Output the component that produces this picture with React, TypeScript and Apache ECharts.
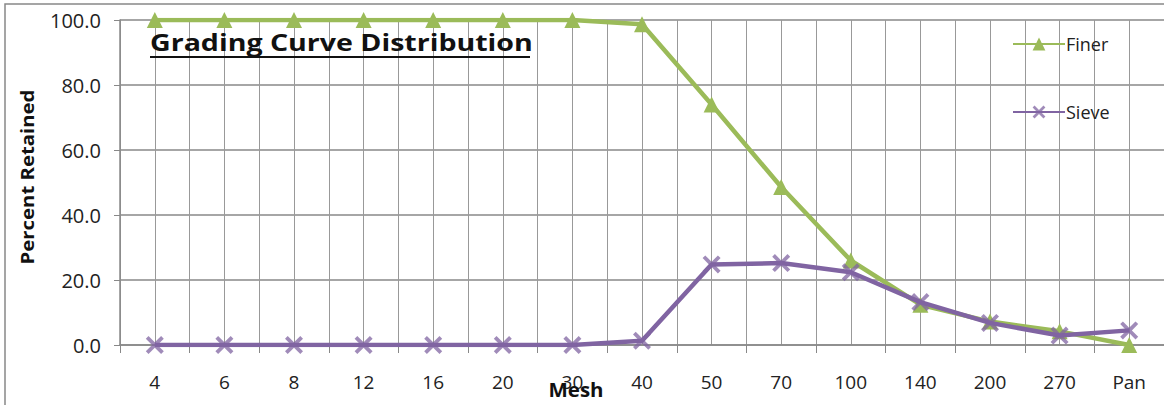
import React, { useEffect, useRef } from "react";
import * as echarts from "echarts";

const meshCategories = ["4", "6", "8", "12", "16", "20", "30", "40", "50", "70", "100", "140", "200", "270", "Pan"];
const finerValues = [100, 100, 100, 100, 100, 100, 100, 98.7, 74.0, 48.6, 26.0, 12.4, 7.2, 4.2, 0];
const sieveValues = [0, 0, 0, 0, 0, 0, 0, 1.3, 24.8, 25.2, 22.4, 13.2, 6.8, 2.9, 4.5];
const yTicks = [0, 20, 40, 60, 80, 100];

const GREEN = "#9BBB59";
const PURPLE = "#8064A2";
const FONT = "'Open Sans', Lato, sans-serif";

const crossPath =
  "path://M1.5,0 L5,3.5 L8.5,0 L10,1.5 L6.5,5 L10,8.5 L8.5,10 L5,6.5 L1.5,10 L0,8.5 L3.5,5 L0,1.5 Z";

export default function App() {
  const ref = useRef<HTMLDivElement>(null);
  useEffect(() => {
    if (!ref.current) return;
    const chart = echarts.init(ref.current, null, { renderer: "svg" });
    chart.setOption({
      animation: false,
      backgroundColor: "#ffffff",
      grid: { left: 120, top: 20, width: 1045, height: 325, containLabel: false },
      xAxis: [
        {
          type: "category",
          data: meshCategories,
          boundaryGap: true,
          axisLine: { show: true, lineStyle: { color: "#888", width: 1.5 } },
          axisTick: { show: true, length: 8, lineStyle: { color: "#888" } },
          axisLabel: { color: "#222", fontSize: 19, fontFamily: FONT, margin: 27 },
          splitLine: { show: false },
        },
        {
          type: "value",
          min: 0,
          max: 15,
          interval: 0.5,
          show: true,
          position: "bottom",
          axisLine: { show: false },
          axisTick: { show: false },
          axisLabel: { show: false },
          splitLine: { show: true, lineStyle: { color: "#999", width: 1 } },
        },
      ],
      yAxis: {
        type: "value",
        min: yTicks[0],
        max: yTicks[yTicks.length - 1],
        interval: 20,
        axisLine: { show: true, lineStyle: { color: "#888", width: 1.5 } },
        axisTick: { show: true, length: 6, lineStyle: { color: "#888" } },
        axisLabel: {
          color: "#222",
          fontSize: 20,
          fontFamily: FONT,
          margin: 19,
          formatter: (v: number) => v.toFixed(1),
        },
        splitLine: { show: true, lineStyle: { color: "#888", width: 1.5 } },
      },
      legend: {
        orient: "vertical",
        left: 1007,
        top: 30,
        itemGap: 50,
        itemWidth: 52,
        itemHeight: 16,
        textStyle: { fontSize: 18, fontFamily: FONT, color: "#222", padding: [0, 0, 0, -4] },
        data: ["Finer", "Sieve"],
      },
      series: [
        {
          name: "Finer",
          type: "line",
          xAxisIndex: 0,
          data: finerValues,
          symbol: "triangle",
          symbolSize: 16,
          lineStyle: { color: GREEN, width: 4.5 },
          itemStyle: { color: GREEN },
          z: 2,
        },
        {
          name: "Sieve",
          type: "line",
          xAxisIndex: 0,
          data: sieveValues,
          symbol: crossPath,
          symbolSize: 18,
          lineStyle: { color: PURPLE, width: 4.5 },
          itemStyle: { color: PURPLE, opacity: 0.75 },
          z: 3,
        },
      ],
      graphic: [
        {
          type: "rect",
          shape: { x: 5, y: 4, width: 1200, height: 450 },
          style: { fill: "none", stroke: "#888", lineWidth: 1.5 },
          silent: true,
          z: -1,
        },
        {
          type: "text",
          x: 150,
          y: 42,
          scaleX: 1.19,
          style: {
            text: "Grading Curve Distribution",
            font: `bold 24px ${FONT}`,
            fill: "#111",
            textVerticalAlign: "middle",
          },
          z: 10,
        },
        {
          type: "line",
          shape: { x1: 150, y1: 57, x2: 530, y2: 57 },
          style: { stroke: "#111", lineWidth: 2 },
          z: 10,
        },
        {
          type: "text",
          x: 576,
          y: 390,
          scaleX: 1.08,
          style: {
            text: "Mesh",
            font: `bold 19px ${FONT}`,
            fill: "#111",
            textAlign: "center",
            textVerticalAlign: "middle",
          },
          z: 10,
        },
        {
          type: "text",
          x: 27,
          y: 177,
          rotation: Math.PI / 2,
          scaleX: 1.13,
          style: {
            text: "Percent Retained",
            font: `bold 18px ${FONT}`,
            fill: "#111",
            textAlign: "center",
            textVerticalAlign: "middle",
          },
          z: 10,
        },
      ],
    });
    return () => chart.dispose();
  }, []);
  return (
    <div
      ref={ref}
      style={{ position: "fixed", left: 0, top: 0, width: 1164, height: 405 }}
    />
  );
}
